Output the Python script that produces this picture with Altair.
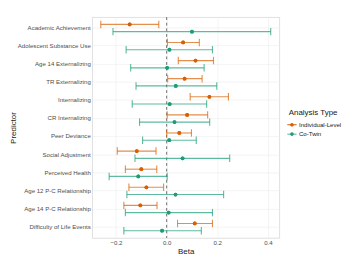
import altair as alt
import pandas as pd

predictors = [
    "Academic Achievement", "Adolescent Substance Use", "Age 14 Externalizing",
    "TR Externalizing", "Internalizing", "CR Internalizing", "Peer Deviance",
    "Social Adjustment", "Perceived Health", "Age 12 P-C Relationship",
    "Age 14 P-C Relationship", "Difficulty of Life Events",
]
types = ["Individual-Level", "Co-Twin"]

ind_est = [-0.146, 0.065, 0.114, 0.071, 0.169, 0.081, 0.050, -0.118, -0.100, -0.080, -0.104, 0.111]
ind_lo = [-0.260, 0.003, 0.046, 0.004, 0.093, 0.002, 0.000, -0.195, -0.163, -0.149, -0.169, 0.043]
ind_hi = [-0.031, 0.129, 0.185, 0.140, 0.244, 0.162, 0.098, -0.042, -0.039, -0.012, -0.038, 0.181]

twin_est = [0.100, 0.011, 0.002, 0.036, 0.012, 0.031, 0.010, 0.063, -0.112, 0.035, 0.008, -0.018]
twin_lo = [-0.212, -0.160, -0.142, -0.121, -0.136, -0.107, -0.095, -0.125, -0.227, -0.157, -0.163, -0.169]
twin_hi = [0.411, 0.181, 0.148, 0.198, 0.158, 0.170, 0.117, 0.249, 0.002, 0.225, 0.181, 0.137]

rows = []
for i, p in enumerate(predictors):
    rows.append(dict(Predictor=p, Type=types[0], est=ind_est[i], lo=ind_lo[i], hi=ind_hi[i]))
    rows.append(dict(Predictor=p, Type=types[1], est=twin_est[i], lo=twin_lo[i], hi=twin_hi[i]))
df = pd.DataFrame(rows)

FONT = "Liberation Sans"
W, H = 200, 236
xscale = alt.Scale(domain=[-0.294, 0.445], nice=False, zero=False)
yscale = alt.Scale(domain=predictors, paddingInner=0.2, paddingOuter=0.2)
cscale = alt.Scale(domain=types, range=["#D95F02", "#1B9E77"])

xaxis = alt.Axis(
    title="Beta", values=[-0.2, -0.1, 0.0, 0.1, 0.2, 0.3, 0.4],
    labelExpr="round(datum.value*10) % 2 != 0 ? '' : format(datum.value, '.1f')",
    grid=True, gridColor="#ebebeb", gridWidth=0.6, ticks=False, domain=False,
    labelFontSize=6.5, labelColor="#4d4d4d", labelFont=FONT, labelPadding=2,
    titleFontSize=8.5, titleFont=FONT, titleFontWeight="normal", titleColor="#1a1a1a", titlePadding=1,
)
yaxis = alt.Axis(
    title="Predictor", bandPosition=0.5, grid=True, gridColor="#ebebeb", gridWidth=0.6,
    ticks=False, domain=False, labelFontSize=6.5, labelColor="#4d4d4d", labelFont=FONT,
    labelPadding=2, titleFontSize=8.5, titleFont=FONT, titleFontWeight="normal",
    titleColor="#1a1a1a", titlePadding=0,
)

legend_path = ("M-1.5,-0.14H1.5V0.14H-1.5Z"
               "M-0.6,0A0.6,0.6,0,1,1,0.6,0A0.6,0.6,0,1,1,-0.6,0Z")
legend = alt.Legend(
    title="Analysis Type", orient="none", legendX=W + 10, legendY=98,
    symbolType=legend_path, symbolSize=44, symbolStrokeWidth=0,
    titleFontSize=8.5, titleFont=FONT, titleFontWeight="normal", titleColor="#1a1a1a",
    labelFontSize=6.5, labelFont=FONT, labelColor="#1a1a1a", rowPadding=3, titlePadding=5,
)

base = alt.Chart(df).encode(
    y=alt.Y("Predictor:N", sort=predictors, scale=yscale, axis=yaxis),
    yOffset=alt.YOffset("Type:N", sort=types, scale=alt.Scale(domain=types)),
)

nolegend = alt.Color("Type:N", scale=cscale, legend=None)

points_leg = base.mark_circle(size=16, opacity=1).encode(
    x=alt.X("est:Q", scale=xscale),
    color=alt.Color("Type:N", scale=cscale, legend=legend))
rules = base.mark_rule(opacity=0.7, strokeWidth=1.2).encode(
    x=alt.X("lo:Q", scale=xscale, axis=xaxis), x2="hi:Q", color=nolegend)
tick_lo = base.mark_tick(orient="vertical", size=8, thickness=1.2, opacity=0.7).encode(
    x=alt.X("lo:Q", scale=xscale), color=nolegend)
tick_hi = base.mark_tick(orient="vertical", size=8, thickness=1.2, opacity=0.7).encode(
    x=alt.X("hi:Q", scale=xscale), color=nolegend)
points = base.mark_circle(size=16, opacity=1).encode(
    x=alt.X("est:Q", scale=xscale), color=nolegend)

zero = alt.Chart(pd.DataFrame({"z": [0.0]})).mark_rule(
    strokeDash=[3, 3], color="#555555", strokeWidth=0.9).encode(x=alt.X("z:Q", scale=xscale))

chart = alt.layer(points_leg, zero, rules, tick_lo, tick_hi, points).properties(
    width=W, height=H, padding=0,
).configure_view(stroke="#d6d6d6", strokeWidth=0.8)

chart.save("out.html", embed_options={"renderer": "svg", "actions": False})
